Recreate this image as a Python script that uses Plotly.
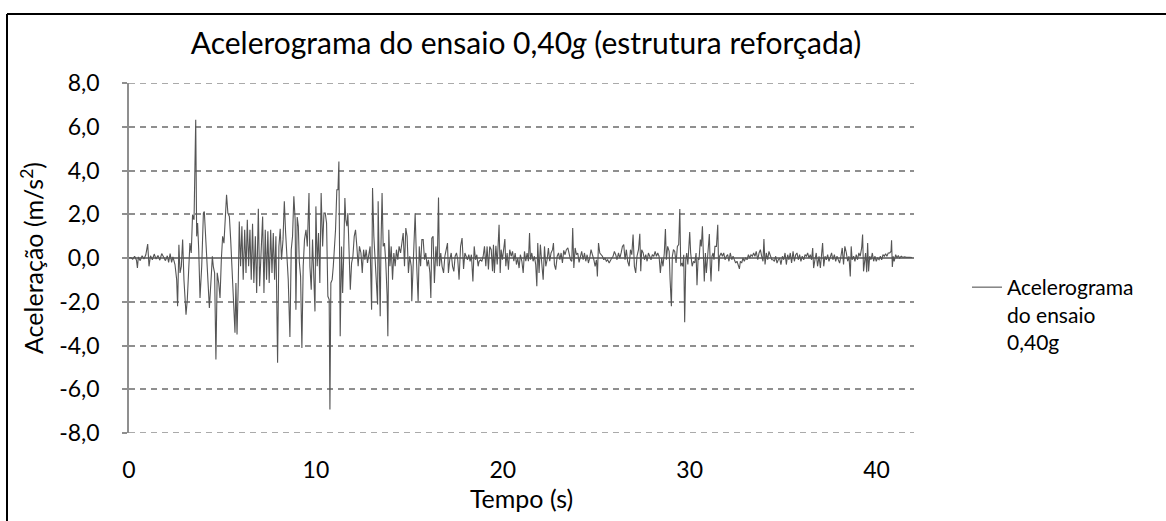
import plotly.graph_objects as go

# ---- data (time in s, acceleration in m/s²) ----
# phase 1: pre-event noise
tempo_inicio = [0.0, 0.1, 0.2, 0.3, 0.4, 0.45, 0.5, 0.6, 0.7, 0.8, 0.9, 1.0, 1.07, 1.15, 1.25, 1.35,
                1.45, 1.55, 1.65, 1.75, 1.85, 1.95, 2.05, 2.12, 2.2, 2.28, 2.35]
acel_inicio = [0.0, 0.02, -0.05, 0.08, -0.1, -0.45, 0.05, -0.12, 0.1, -0.05, 0.15, 0.64, -0.38, 0.1, -0.08, 0.18,
               -0.05, 0.12, -0.1, 0.2, 0.05, -0.12, 0.1, -0.2, 0.2, -0.2, 0.05]

# phase 2: strong motion
tempo_forte = [
    2.46, 2.55, 2.60, 2.67, 2.73, 2.80, 2.87, 2.94, 3.05, 3.12,
    3.21, 3.26, 3.33, 3.40, 3.48, 3.57, 3.62, 3.67, 3.73, 3.80,
    3.89, 3.98, 4.03, 4.10, 4.19, 4.30, 4.39, 4.46, 4.51, 4.58,
    4.65, 4.72, 4.80, 4.87, 4.94, 5.01, 5.08, 5.17, 5.22, 5.29,
    5.37, 5.44, 5.51, 5.58, 5.67, 5.72, 5.78, 5.85, 5.90, 5.97,
    6.04, 6.11, 6.19, 6.26, 6.33, 6.40, 6.47, 6.54, 6.61, 6.68,
    6.76, 6.83, 6.92, 6.99, 7.06, 7.15, 7.22, 7.29, 7.36, 7.43,
    7.50, 7.58, 7.65, 7.72, 7.79, 7.86, 7.95, 8.02, 8.09, 8.16,
    8.24, 8.31, 8.38, 8.45, 8.52, 8.61, 8.68, 8.75, 8.82, 8.89,
    8.93,
    9.00, 9.06, 9.11, 9.18, 9.25, 9.32, 9.39, 9.47, 9.54, 9.63,
    9.68, 9.75, 9.82, 9.89, 9.95, 10.00, 10.07, 10.14, 10.21, 10.28,
    10.36, 10.43, 10.50, 10.57, 10.64, 10.71, 10.75, 10.80, 10.87, 10.93,
    10.98, 11.05, 11.12, 11.18, 11.23, 11.27, 11.30, 11.37, 11.43, 11.48,
    11.55, 11.60, 11.66, 11.71, 11.76, 11.84, 11.91, 11.98, 12.05, 12.12,
    12.19, 12.26, 12.33, 12.41, 12.48, 12.55, 12.62, 12.69, 12.76, 12.83,
    12.90, 12.98, 13.03, 13.10, 13.17, 13.24, 13.30, 13.33, 13.39, 13.44,
    13.48, 13.54, 13.60, 13.67, 13.74, 13.81, 13.85, 13.90, 13.96, 14.03,
    14.10, 14.17, 14.24, 14.31, 14.38, 14.45, 14.53, 14.60, 14.67, 14.74,
    14.81, 14.88, 14.95, 15.02, 15.10, 15.13, 15.20, 15.26, 15.31, 15.38,
    15.47, 15.53, 15.60, 15.67, 15.74, 15.81, 15.88, 15.95, 16.02, 16.10,
    16.15, 16.20, 16.27, 16.34, 16.42, 16.49, 16.56, 16.61, 16.68, 16.75,
    16.83, 16.90, 16.97, 17.04, 17.09, 17.16, 17.24, 17.31, 17.38, 17.45,
    17.52, 17.59, 17.66, 17.74, 17.82, 17.90, 17.97, 18.04, 18.11, 18.18,
    18.25, 18.32, 18.40, 18.47, 18.54, 18.61,
]
acel_forte = [
    -0.30, -0.99, -2.21, 0.61, -0.68, -0.38, 0.84, -0.99, -2.59, -1.90,
    -0.38, 0.68, 0.23, 1.98, 1.75, 6.32, 0.99, 1.60, 0.38, -1.83,
    -0.38, 2.05, 2.13, 0.99, -0.38, -2.28, -0.99, 0.08, -0.38, -0.68,
    -4.64, -0.68, -1.14, -1.83, -0.08, 0.99, 0.68, 2.05, 2.89, 2.05,
    1.90, 0.84, -0.38, -1.29, -3.42, -1.14, -3.50, -0.99, 1.67, -0.38,
    1.45, -0.99, 1.29, -0.68, 1.75, -0.38, 1.29, -0.99, 1.57, -1.14,
    0.99, -1.60, 2.25, -1.29, 0.53, 1.90, -1.60, 1.29, -0.99, 1.22,
    -1.14, 1.29, -0.68, 1.14, -0.99, 0.99, -4.79, 0.53, 1.34, -0.08,
    0.84, 2.59, 1.14, 0.08, -0.99, -3.61, 0.38, 0.99, 2.82, 1.75,
    -2.36,
    1.87, 1.45, -0.15, -0.84, -4.11, -0.38, 0.84, 1.29, 0.53, 2.97,
    -0.38, -1.45, 0.84, -0.99, -2.44, 2.36, -0.38, 1.14, -1.14, 2.97,
    0.53, 2.05, 2.05, 1.60, -1.75, -1.90, -6.93, -1.14, -0.99, -0.38,
    0.23, 1.29, 3.12, 3.12, 4.41, -1.75, -3.58, 0.53, -1.60, -0.08,
    2.74, 1.75, 1.45, 2.05, 0.53, -1.45, -0.23, 0.08, 0.99, 1.29,
    0.53, -0.38, 0.53, 0.23, -0.68, 0.38, -0.08, 0.38, -0.23, 0.23,
    0.53, -2.36, 3.20, 0.99, -0.23, -0.99, -2.13, 2.59, -0.68, -2.66,
    0.53, 2.97, 0.53, 0.68, -0.23, -1.75, -3.58, 1.29, -0.38, 0.53,
    -0.99, 0.23, -0.38, 0.38, -0.08, 0.53, 0.23, 0.84, 1.14, -0.38,
    1.37, 0.99, -0.68, 0.08, -0.38, -1.98, -0.08, 0.84, 2.05, -0.08,
    -1.98, 0.53, -0.38, 0.84, 0.84, -0.08, 0.23, -0.38, -0.08, -0.68,
    -1.83, 0.91, 0.99, -1.14, 0.53, -0.38, 2.77, -0.38, 0.23, -0.38,
    -0.68, 0.08, 0.38, 0.68, -0.68, -0.08, 0.23, -0.38, -0.61, 0.08,
    0.23, -0.08, -0.99, 0.53, 0.91, -0.50, 0.23, 0.08, -0.08, 0.15,
    -0.15, 0.15, -1.07, 0.53, -0.08, 0.15,
]

# phase 3: coda
tempo_final = [
    18.68, 18.73, 18.81, 18.88, 18.95, 19.02, 19.09, 19.16, 19.23, 19.30,
    19.38, 19.45, 19.50, 19.55, 19.63, 19.70, 19.77, 19.80, 19.86, 19.91,
    19.98, 20.05, 20.11, 20.16, 20.23, 20.30, 20.37, 20.45, 20.52, 20.59,
    20.66, 20.73, 20.80, 20.87, 20.94, 21.02, 21.09, 21.16, 21.23, 21.30,
    21.37, 21.43, 21.48, 21.55, 21.62, 21.69, 21.76, 21.82, 21.87, 21.94,
    22.01, 22.09, 22.16, 22.23, 22.30, 22.37, 22.44, 22.51, 22.58, 22.66,
    22.71, 22.76, 22.83, 22.91, 22.98, 23.05, 23.12, 23.19, 23.26, 23.33,
    23.40, 23.48, 23.55, 23.62, 23.69, 23.74, 23.80, 23.87, 23.94, 24.01,
    24.08, 24.15, 24.22, 24.30, 24.37, 24.44, 24.51, 24.58, 24.65, 24.72,
    24.80, 24.87, 24.94, 25.01, 25.06, 25.12, 25.19, 25.26, 25.33, 25.40,
    25.47, 25.54, 25.61, 25.69, 25.76, 25.83, 25.90, 25.97, 26.04, 26.11,
    26.19, 26.26, 26.33, 26.40, 26.47, 26.54, 26.61, 26.68, 26.76, 26.83,
    26.90, 26.97, 27.04, 27.11, 27.18, 27.26, 27.33, 27.38, 27.43, 27.51,
    27.58, 27.65, 27.72, 27.79, 27.86, 27.93, 28.00, 28.08, 28.15, 28.22,
    28.29,
    28.36, 28.43, 28.50, 28.57, 28.64, 28.70, 28.75, 28.82, 28.90, 28.95,
    29.02, 29.07, 29.13, 29.20, 29.27, 29.34, 29.41, 29.47, 29.52, 29.57,
    29.63, 29.68, 29.73, 29.79, 29.84, 29.90, 29.95, 30.00, 30.05, 30.13,
    30.20, 30.27, 30.34, 30.39, 30.45, 30.50, 30.57, 30.62, 30.68, 30.73,
    30.78, 30.84, 30.89, 30.94, 31.00, 31.05, 31.10, 31.14, 31.19, 31.25,
    31.30, 31.35, 31.43, 31.50, 31.55, 31.60, 31.68, 31.75, 31.82, 31.89,
    31.96, 32.03, 32.10, 32.17, 32.25, 32.32, 32.39, 32.46, 32.53, 32.60,
    32.66, 32.71, 32.78, 32.85, 32.92, 32.99, 33.07, 33.14, 33.21, 33.28,
    33.35, 33.42, 33.49, 33.56, 33.64, 33.71, 33.78, 33.85, 33.92, 33.97,
    34.03, 34.10, 34.17, 34.24, 34.31, 34.39, 34.46, 34.53, 34.60, 34.67,
    34.74, 34.81, 34.88, 34.96, 35.03, 35.10, 35.17, 35.24, 35.31, 35.38,
    35.45, 35.53, 35.60, 35.67, 35.74, 35.81, 35.88, 35.95, 36.02, 36.10,
    36.17, 36.24, 36.31, 36.38, 36.45, 36.52, 36.58, 36.63, 36.70, 36.77,
    36.84, 36.92, 36.99, 37.06, 37.11, 37.17, 37.24, 37.31, 37.38, 37.45,
    37.52, 37.59, 37.66, 37.74, 37.81, 37.88, 37.95, 38.02, 38.09, 38.16,
    38.23, 38.30, 38.38, 38.45, 38.52, 38.59, 38.64, 38.69, 38.77, 38.84,
    38.91, 38.98, 39.05, 39.12, 39.20, 39.25, 39.30, 39.36, 39.41, 39.47,
    39.52, 39.57, 39.63, 39.70, 39.77, 39.84, 39.91, 39.98, 40.05, 40.13,
    40.20, 40.27, 40.34, 40.41, 40.48, 40.55, 40.62, 40.70, 40.77, 40.80,
    40.84, 40.89, 40.94, 41.02, 41.09, 41.16, 41.23, 41.32, 41.41, 41.50,
    41.59, 41.77, 41.90,
]
acel_final = [
    -0.38, -0.15, -0.08, -0.15, 0.08, 0.53, -0.38, 0.53, -0.53, 0.53,
    0.38, -0.61, 0.61, -0.68, 0.56, -0.30, 0.76, 1.52, -0.68, 0.38,
    -0.08, 0.53, 0.87, -0.38, 0.23, -0.53, 0.38, 0.08, 0.30, -0.15,
    0.23, -0.30, 0.0, -0.46, 0.15, -0.15, -0.68, 0.30, -0.15, 0.23,
    -0.15, 1.14, -0.08, 0.23, -0.15, 0.08, -0.30, -1.29, 0.68, -0.68,
    0.61, -0.30, -0.99, 0.53, -0.38, -0.08, 0.46, -0.15, 0.23, 0.38,
    0.68, -0.30, -0.53, 0.08, 0.23, -0.08, 0.23, -0.23, 0.35, 0.15,
    0.38, 0.46, 0.23, -0.08, -0.15, 1.37, -0.46, 0.46, 0.15, 0.23,
    -0.20, 0.08, 0.30, -0.08, 0.23, -0.15, 0.15, -0.23, 0.0, 0.38,
    0.15, -0.08, -0.38, -0.08, -0.84, 0.68, 0.23, 0.15, 0.08, -0.08,
    0.0, -0.15, -0.08, -0.23, -0.08, 0.0, 0.08, 0.30, 0.15, -0.08,
    0.23, 0.0, 0.23, 0.53, 0.61, -0.08, 0.38, -0.15, -0.38, 0.38,
    0.15, 1.07, -0.38, -0.68, 0.08, 0.38, 1.11, -0.61, 0.38, 0.23,
    -0.08, 0.15, -0.15, 0.23, 0.08, -0.08, 0.15, 0.08, 0.30, 0.08,
    0.23,
    0.08, -0.68, 0.0, -0.38, 0.23, 1.32, -0.08, 0.53, 0.30, -0.99,
    -2.21, 0.08, 0.38, 0.30, -0.23, 0.53, 0.61, 2.24, -0.38, -0.23,
    -0.38, 0.15, -2.94, -0.08, 0.23, -0.30, 0.68, 1.19, 0.23, -0.38,
    -0.15, -0.23, 0.23, -1.25, 0.0, -0.08, 0.84, 0.53, 1.45, -0.23,
    -1.07, 0.23, -0.68, -0.15, 0.38, 1.10, -0.38, -1.07, 0.08, 0.23,
    -0.08, 0.53, 0.53, 1.52, -0.61, 0.08, 0.23, 0.08, 0.23, -0.08,
    0.08, 0.15, -0.15, 0.23, -0.08, 0.08, -0.08, -0.23, -0.15, -0.30,
    -0.50, -0.15, -0.23, 0.0, -0.15, 0.0, -0.08, 0.15, 0.0, 0.15,
    0.08, 0.23, 0.08, 0.30, -0.08, 0.23, 0.38, 0.08, -0.15, 0.87,
    -0.30, 0.23, -0.08, 0.30, 0.08, -0.08, -0.08, -0.15, 0.08, -0.23,
    -0.08, 0.0, -0.30, 0.08, -0.08, 0.23, -0.30, 0.15, -0.08, 0.23,
    -0.23, 0.30, -0.15, 0.15, 0.23, -0.08, 0.15, -0.15, 0.08, -0.08,
    0.15, 0.08, 0.23, 0.0, 0.15, -0.08, 0.46, -0.46, -0.08, 0.23,
    -0.38, 0.08, -0.46, 0.23, 0.68, -0.38, 0.08, -0.08, 0.15, -0.15,
    0.08, 0.23, -0.08, 0.15, -0.15, 0.08, -0.08, -0.23, 0.08, 0.46,
    -0.30, 0.53, 0.23, -0.15, 0.08, -0.84, 0.53, -0.08, 0.08, -0.15,
    0.15, -0.08, 0.23, 0.08, 0.46, 1.07, -0.61, -0.08, 0.23, -0.65,
    0.68, -0.61, 0.08, -0.08, 0.23, -0.15, 0.08, -0.15, 0.0, -0.08,
    0.08, -0.08, 0.15, 0.08, 0.20, 0.08, 0.23, 0.23, 0.30, 0.81,
    -0.41, 0.08, -0.15, 0.15, 0.0, 0.11, 0.0, 0.08, 0.03, 0.05,
    0.03, 0.03, 0.02,
]

# axis ticks
x_tick_vals = [0, 10, 20, 30, 40]
x_tick_text = ["0", "10", "20", "30", "40"]
y_tick_vals = [-8, -6, -4, -2, 0, 2, 4, 6, 8]
y_tick_text = ["-8,0", "-6,0", "-4,0", "-2,0", "0,0", "2,0", "4,0", "6,0", "8,0"]

serie_nome = "Acelerograma<br>do ensaio<br>0,40g"

tempo = tempo_inicio + tempo_forte + tempo_final
aceleracao = acel_inicio + acel_forte + acel_final
assert len(tempo) == len(aceleracao)

FONT = "Lato"
GRID = "#8f8f8f"
GRID_DASH = "6px,5px"

fig = go.Figure()
fig.add_trace(go.Scatter(
    x=tempo, y=aceleracao, mode="lines", name=serie_nome,
    line=dict(color="#555555", width=1.1),
))

# plot area in px: x 129..914, y 83..433
L, R, T, B = 129, 914, 83, 433
W, H = 1166, 521


def px_x(p):
    return (p - L) / (R - L)


def px_y(p):
    return (B - p) / (B - T)


# edge gridlines (plotly hides gridlines that sit exactly on the range ends)
edge_grid = [
    dict(type="line", xref="paper", yref="y", x0=0, x1=1, y0=v, y1=v, layer="below",
         line=dict(color=GRID, width=1.5, dash=GRID_DASH))
    for v in (y_tick_vals[0], y_tick_vals[-1])
]

fig.update_layout(
    width=W, height=H,
    margin=dict(l=L, r=W - R, t=T, b=H - B, pad=0),
    paper_bgcolor="white", plot_bgcolor="white",
    font=dict(family=FONT, color="#000000", size=21),
    title=dict(
        text="Acelerograma do ensaio 0,40<i>g</i> (estrutura reforçada)",
        font=dict(family=FONT, size=30, color="#000000"),
        x=526 / W, xref="container", xanchor="center",
        y=1 - 43 / H, yref="container", yanchor="middle",
    ),
    showlegend=True,
    legend=dict(
        x=px_x(967), y=px_y(267), xanchor="left", yanchor="top",
        font=dict(family=FONT, size=21, color="#000000"),
        bgcolor="rgba(0,0,0,0)", borderwidth=0, valign="top",
        tracegroupgap=0,
    ),
    xaxis=dict(
        range=[0, 42], tickvals=x_tick_vals, ticktext=x_tick_text,
        showgrid=False, zeroline=False, showline=False, ticks="",
        tickfont=dict(family=FONT, size=23), ticklabelstandoff=21,
        title=dict(text="Tempo (s)", font=dict(family=FONT, size=25), standoff=7),
    ),
    yaxis=dict(
        range=[-8, 8], tickvals=y_tick_vals, ticktext=y_tick_text,
        showgrid=True, gridcolor=GRID, gridwidth=1.5, griddash=GRID_DASH,
        zeroline=True, zerolinecolor="#7f7f7f", zerolinewidth=1.5,
        showline=True, linecolor=GRID, linewidth=1.5,
        ticks="outside", ticklen=5, tickcolor=GRID, tickwidth=1.5,
        tickfont=dict(family=FONT, size=23), ticklabelstandoff=18,
        title=dict(text="Aceleração (m/s<sup>2</sup>)", font=dict(family=FONT, size=25), standoff=8),
    ),
    shapes=edge_grid + [
        dict(type="line", xref="paper", yref="paper",
             x0=px_x(7), x1=px_x(W + 5), y0=px_y(14), y1=px_y(14),
             line=dict(color="black", width=2)),
        dict(type="line", xref="paper", yref="paper",
             x0=px_x(7), x1=px_x(7), y0=px_y(14), y1=px_y(H + 5),
             line=dict(color="black", width=2)),
    ],
)

fig.write_html("out.html")
